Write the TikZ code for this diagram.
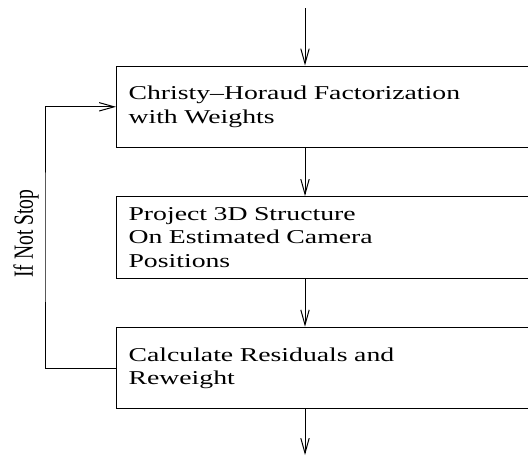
\documentclass[tikz,border=0pt]{standalone}
\usepackage{fontspec}
\setmainfont{Liberation Serif}
\newfontfamily\tfont[FakeStretch=1.415,Ligatures=TeX]{Liberation Serif}
\usetikzlibrary{arrows.meta}
\tikzset{
  stepbox/.style={draw=black, line width=0.55pt, rectangle, anchor=north west,
    minimum width=212pt, text width=200pt, inner xsep=6pt, inner ysep=0pt,
    align=left, font=\fontsize{9.8pt}{11.7pt}\tfont},
  arr/.style={draw=black, line width=0.5pt, -{Straight Barb[length=7.5pt,width=4.2pt,line width=0.5pt]}},
}
\begin{document}
\begin{tikzpicture}[x=0.5pt,y=-0.5pt]
\useasboundingbox (0,0) rectangle (528,457);
\node[stepbox, minimum height=40.75pt] (b1) at (116,65.5) {Christy\textendash Horaud Factorization\\with Weights};
\node[stepbox, minimum height=40.85pt] (b2) at (116,196) {Project 3D Structure\\On Estimated Camera\\Positions};
\node[stepbox, minimum height=40.8pt] (b3) at (116,326.7) {Calculate Residuals and\\Reweight};
\coordinate (ax) at (305,0);
\coordinate (top) at (305,8);
\coordinate (bot) at (305,455);
\coordinate (lc) at (45,237);
\draw[arr] (top) -- (b1.north -| ax);
\draw[arr] (b1.south -| ax) -- (b2.north -| ax);
\draw[arr] (b2.south -| ax) -- (b3.north -| ax);
\draw[arr] (b3.south -| ax) -- (bot);
\draw[arr] (b3.west) -| (lc) |- (b1.west);
\node[rotate=90, inner sep=0pt, font=\fontsize{9.8pt}{11.7pt}\selectfont] (lbl) at (26,233.5) {\scalebox{1}[1.415]{If Not Stop}};
\end{tikzpicture}
\end{document}
